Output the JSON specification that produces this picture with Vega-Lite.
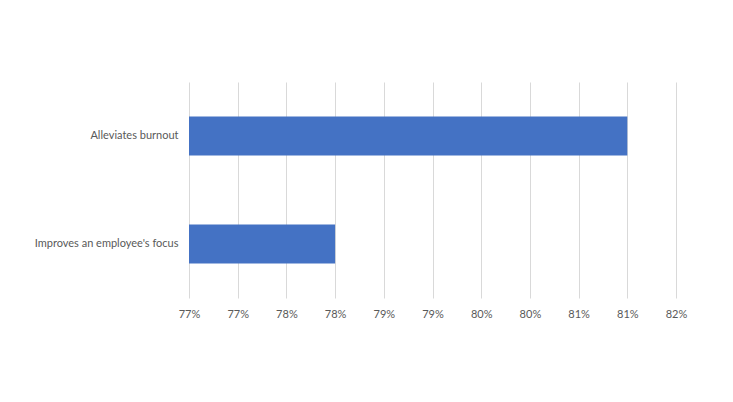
{
  "$schema": "https://vega.github.io/schema/vega-lite/v6.json",
  "width": 487,
  "height": 216,
  "autosize": {"type": "none"},
  "padding": {"left": 189, "top": 82, "right": 57, "bottom": 104},
  "background": "white",
  "config": {
    "view": {"stroke": null},
    "font": "Lato",
    "axis": {"labelFont": "Lato", "labelColor": "#595959", "labelFontSize": 11}
  },
  "data": {
    "values": [
      {"benefit": "Alleviates burnout", "share": 81},
      {"benefit": "Improves an employee's focus", "share": 78}
    ]
  },
  "mark": {"type": "bar", "color": "#4472c4", "clip": true},
  "encoding": {
    "y": {
      "field": "benefit",
      "type": "nominal",
      "sort": null,
      "title": null,
      "scale": {"paddingInner": 0.64, "paddingOuter": 0.32},
      "axis": {"ticks": false, "domain": false, "labelPadding": 11, "grid": false, "labelLimit": 300}
    },
    "x": {
      "field": "share",
      "type": "quantitative",
      "title": null,
      "scale": {"domain": [76.5, 81.5], "zero": false, "nice": false},
      "axis": {
        "values": [76.5, 77, 77.5, 78, 78.5, 79, 79.5, 80, 80.5, 81, 81.5],
        "labelExpr": "round(datum.value) + '%'",
        "grid": true,
        "gridColor": "#d9d9d9",
        "ticks": false,
        "domain": false,
        "labelPadding": 10,
        "labelFlush": false
      }
    }
  }
}
